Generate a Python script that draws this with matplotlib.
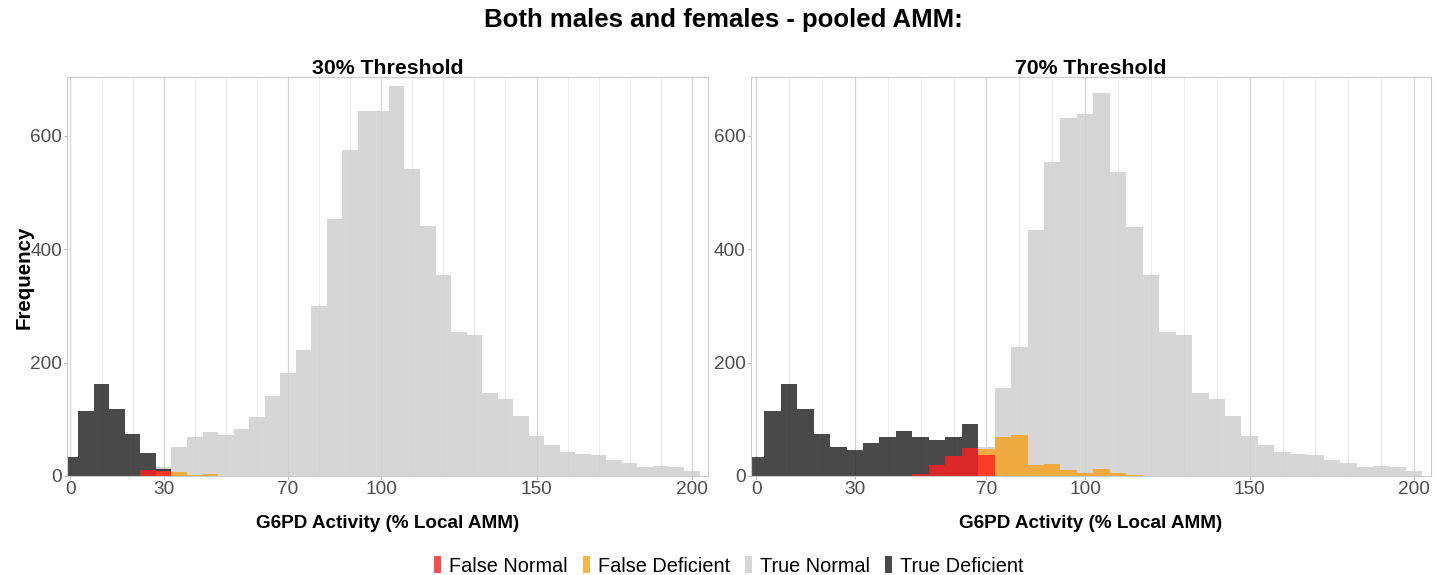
import matplotlib
matplotlib.use("Agg")
import matplotlib.pyplot as plt
from matplotlib.patches import Patch
import numpy as np

plt.rcParams['font.family'] = ['Liberation Sans', 'DejaVu Sans']

# ---------------- data ----------------
bin_centers = list(range(0, 205, 5))  # 0..200, binwidth 5

categories = ["False Normal", "False Deficient", "True Normal", "True Deficient"]
colors = {"False Normal": "#FF2020", "False Deficient": "#F7A11A",
          "True Normal": "#CCCCCC", "True Deficient": "#1C1C1C"}

def series(d):
    return [d.get(c, 0) for c in bin_centers]

# 30% threshold panel
t30_true_deficient = series({0: 33, 5: 115, 10: 163, 15: 118, 20: 74, 25: 41, 30: 12})
t30_false_normal = series({25: 11, 30: 9})
t30_false_deficient = series({30: 9, 35: 6.5, 40: 2.3, 45: 4})
t30_true_normal = series({30: 15, 35: 51, 40: 68, 45: 78, 50: 72, 55: 83, 60: 104, 65: 141,
                          70: 181, 75: 223, 80: 300, 85: 454, 90: 575, 95: 643, 100: 644,
                          105: 687, 110: 542, 115: 440, 120: 355, 125: 254, 130: 249,
                          135: 146, 140: 136, 145: 106, 150: 71, 155: 55, 160: 42, 165: 38,
                          170: 37, 175: 28, 180: 23, 185: 16, 190: 17, 195: 16, 200: 8})

# 70% threshold panel
t70_true_deficient = series({0: 33, 5: 115, 10: 163, 15: 118, 20: 74, 25: 51, 30: 45, 35: 58,
                             40: 68, 45: 80, 50: 68, 55: 63, 60: 68, 65: 92})
t70_false_normal = series({50: 3.5, 55: 19, 60: 35, 65: 49, 70: 37})
t70_false_deficient = series({70: 47, 75: 68, 80: 73, 85: 19, 90: 21, 95: 11, 100: 5.5,
                              105: 12, 110: 6, 115: 1.5})
t70_true_normal = series({70: 52, 75: 155, 80: 228, 85: 434, 90: 553, 95: 631, 100: 639,
                          105: 676, 110: 536, 115: 439, 120: 355, 125: 254, 130: 249,
                          135: 146, 140: 136, 145: 106, 150: 71, 155: 55, 160: 42, 165: 38,
                          170: 37, 175: 28, 180: 23, 185: 16, 190: 17, 195: 16, 200: 8})

x_major = [0, 30, 70, 100, 150, 200]
x_minor = [10, 20, 40, 50, 60, 80, 90, 110, 120, 130, 140, 160, 170, 180, 190]
y_ticks = [0, 200, 400, 600]

panels = [
    ("30% Threshold", {"True Normal": t30_true_normal, "True Deficient": t30_true_deficient,
                       "False Deficient": t30_false_deficient, "False Normal": t30_false_normal}),
    ("70% Threshold", {"True Normal": t70_true_normal, "True Deficient": t70_true_deficient,
                       "False Deficient": t70_false_deficient, "False Normal": t70_false_normal}),
]

# ---------------- figure ----------------
W, H = 1446, 575
fig = plt.figure(figsize=(W / 100, H / 100), dpi=100)
fig.patch.set_facecolor("white")

axes_px = [(67.3, 641.0, -1.03, 205.3), (750.7, 680.3, -1.64, 205.1)]
top_px, bot_px = 77.3, 476.0

draw_order = ["True Normal", "True Deficient", "False Deficient", "False Normal"]

for (title, data), (left, width, x0, x1) in zip(panels, axes_px):
    ax = fig.add_axes([left / W, 1 - bot_px / H, width / W, (bot_px - top_px) / H])
    ax.set_axisbelow(True)
    for xv in x_minor:
        ax.axvline(xv, color="#ececec", lw=0.7, zorder=0)
    for xv in x_major:
        ax.axvline(xv, color="#d6d6d6", lw=0.9, zorder=0)
    for cat in draw_order:
        ax.bar(bin_centers, data[cat], width=5, align="center", color=colors[cat],
               alpha=0.8, linewidth=0, zorder=2)
    ax.set_xlim(x0, x1)
    ax.set_ylim(0, 703)
    ax.set_xticks(x_major)
    ax.set_yticks(y_ticks)
    ax.tick_params(axis="both", labelsize=13.7, labelcolor="#4d4d4d", color="#b3b3b3",
                   length=2.2, width=0.7, pad=1.5)
    for s in ax.spines.values():
        s.set_color("#cccccc")
        s.set_linewidth(0.8)
    cx = (left + width / 2) / W
    fig.text(cx, 1 - 69 / H, title, ha="center", va="center", fontsize=15.3, fontweight="bold")
    fig.text(cx, 1 - 523 / H, "G6PD Activity (% Local AMM)", ha="center", va="center",
             fontsize=13.6, fontweight="bold")

fig.text(24 / W, 1 - 277 / H, "Frequency", ha="center", va="center", rotation=90,
         fontsize=14.8, fontweight="bold")
fig.text(0.5, 1 - 20 / H, "Both males and females - pooled AMM:", ha="center", va="center",
         fontsize=18.5, fontweight="bold")

handles = [Patch(facecolor=colors[c], alpha=0.8, edgecolor="none", label=c) for c in categories]
fig.legend(handles=handles, loc="center", bbox_to_anchor=(0.5 + 6 / W, 1 - 566 / H), ncol=4,
           frameon=False, handlelength=0.36, handleheight=0.9, handletextpad=0.4,
           columnspacing=0.75, fontsize=14.3)

fig.savefig("out.png", dpi=100)
